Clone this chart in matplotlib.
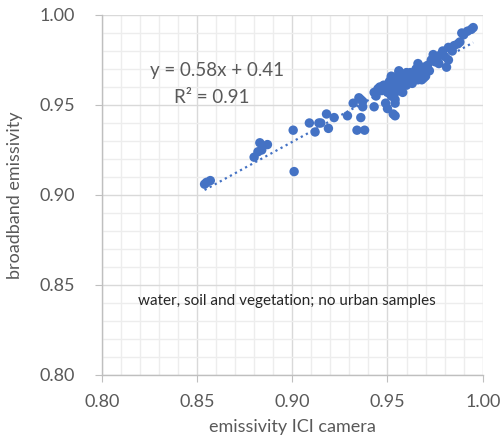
import matplotlib.pyplot as plt
from matplotlib.ticker import MultipleLocator, FormatStrFormatter

plt.rcParams['font.family'] = ['Lato', 'DejaVu Sans']

# emissivity pairs: ICI camera vs broadband
ici = [0.854, 0.855, 0.857, 0.880, 0.882, 0.884, 0.883, 0.887, 0.9005, 0.901,
       0.909, 0.912, 0.914, 0.915, 0.918, 0.919, 0.922, 0.929, 0.932, 0.936,
       0.937, 0.936, 0.934, 0.938, 0.944, 0.943, 0.946, 0.949, 0.950, 0.953,
       0.952, 0.954, 0.954, 0.956, 0.935, 0.937, 0.943, 0.945, 0.944, 0.951,
       0.952, 0.954, 0.954, 0.956, 0.956, 0.959, 0.958, 0.960, 0.962, 0.966,
       0.968, 0.969, 0.968, 0.974, 0.975, 0.979, 0.982, 0.982, 0.981, 0.987,
       0.988, 0.989, 0.992, 0.994, 0.947, 0.948, 0.950, 0.951, 0.953, 0.955,
       0.957, 0.957, 0.958, 0.959, 0.960, 0.961, 0.962, 0.963, 0.964, 0.965,
       0.966, 0.967, 0.969, 0.970, 0.971, 0.972, 0.973, 0.976, 0.977, 0.978,
       0.980, 0.984, 0.985, 0.954, 0.952, 0.956, 0.995, 0.990]
broadband = [0.906, 0.907, 0.908, 0.921, 0.924, 0.925, 0.929, 0.928, 0.936, 0.913,
             0.940, 0.935, 0.940, 0.940, 0.945, 0.937, 0.943, 0.944, 0.951, 0.953,
             0.949, 0.943, 0.936, 0.936, 0.957, 0.949, 0.960, 0.951, 0.948, 0.945,
             0.966, 0.962, 0.951, 0.969, 0.954, 0.952, 0.957, 0.959, 0.955, 0.961,
             0.965, 0.953, 0.944, 0.968, 0.962, 0.964, 0.957, 0.968, 0.965, 0.973,
             0.969, 0.965, 0.964, 0.978, 0.974, 0.980, 0.982, 0.975, 0.971, 0.984,
             0.985, 0.990, 0.991, 0.992, 0.958, 0.961, 0.957, 0.963, 0.960, 0.964,
             0.966, 0.960, 0.963, 0.967, 0.961, 0.964, 0.968, 0.962, 0.966, 0.970,
             0.964, 0.967, 0.971, 0.966, 0.972, 0.969, 0.975, 0.976, 0.973, 0.978,
             0.977, 0.980, 0.983, 0.957, 0.955, 0.958, 0.993, 0.989]

# linear trend (shown rounded in the label)
slope = 0.581
intercept = 0.4066
r2 = 0.91
trend_x = [0.854, 0.995]

grey = '#595959'
blue = '#4472C4'

fig = plt.figure(figsize=(5.03, 4.42), dpi=100)
ax = fig.add_axes([0.2022, 0.1516, 0.7575, 0.8145])

ax.scatter(ici, broadband, s=46, color=blue, edgecolors='none', zorder=3)
ax.plot(trend_x, [slope * v + intercept for v in trend_x], color=blue,
        linestyle=(0, (1, 1.6)), linewidth=1.6, zorder=2)

ax.set_xlim(0.80, 1.00)
ax.set_ylim(0.80, 1.00)
ax.xaxis.set_major_locator(MultipleLocator(0.05))
ax.yaxis.set_major_locator(MultipleLocator(0.05))
ax.xaxis.set_minor_locator(MultipleLocator(0.01))
ax.yaxis.set_minor_locator(MultipleLocator(0.01))
ax.xaxis.set_major_formatter(FormatStrFormatter('%.2f'))
ax.yaxis.set_major_formatter(FormatStrFormatter('%.2f'))

ax.grid(which='major', color='#D9D9D9', linewidth=1.0, zorder=0)
ax.grid(which='minor', color='#EDEDED', linewidth=1.0, zorder=0)
ax.set_axisbelow(True)

for side in ['top', 'right']:
    ax.spines[side].set_visible(False)
for side in ['left', 'bottom']:
    ax.spines[side].set_color('#BFBFBF')
    ax.spines[side].set_linewidth(1.0)

ax.tick_params(which='major', length=5, color='#BFBFBF', labelcolor=grey, labelsize=13)
ax.tick_params(axis='x', which='major', pad=9)
ax.tick_params(axis='y', which='major', pad=14)
ax.tick_params(which='minor', length=0)

ax.set_xlabel('emissivity ICI camera', color=grey, fontsize=13, labelpad=6)
ax.set_ylabel('broadband emissivity', color=grey, fontsize=13, labelpad=12)

ax.text(0.8607, 0.9694, f'y = {slope:.2f}x + {intercept:.2f}', color=grey,
        fontsize=13.5, ha='center', va='center')
ax.text(0.8575, 0.9544, f'R² = {r2:.2f}', color=grey,
        fontsize=13.5, ha='center', va='center')
ax.text(0.897, 0.8411, 'water, soil and vegetation; no urban samples',
        color='#262626', fontsize=11, ha='center', va='center')

fig.savefig('out.png', dpi=100)
